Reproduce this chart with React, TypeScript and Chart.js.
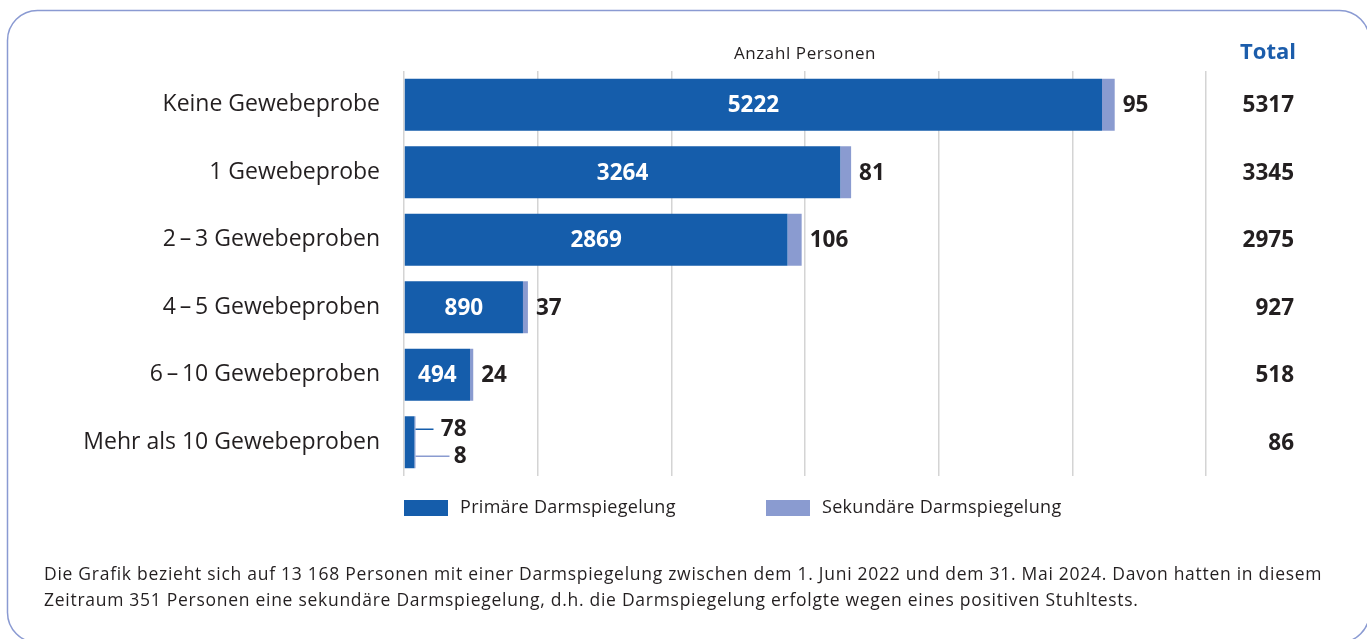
import React, { useEffect, useRef } from 'react';
import { Chart, registerables } from 'chart.js';

Chart.register(...registerables);

const categories = [
  'Keine Gewebeprobe',
  '1 Gewebeprobe',
  '2\u2009\u2013\u20093 Gewebeproben',
  '4\u2009\u2013\u20095 Gewebeproben',
  '6\u2009\u2013\u200910 Gewebeproben',
  'Mehr als 10 Gewebeproben',
];
const primary = [5222, 3264, 2869, 890, 494, 78];
const secondary = [95, 81, 106, 37, 24, 8];
const totals = [5317, 3345, 2975, 927, 518, 86];
const seriesNames = ['Primäre Darmspiegelung', 'Sekundäre Darmspiegelung'];
const axisTitle = 'Anzahl Personen';
const totalHeader = 'Total';
const xMax = 6000;
const xStep = 1000;
const footnote = [
  'Die Grafik bezieht sich auf 13 168 Personen mit einer Darmspiegelung zwischen dem 1. Juni 2022 und dem 31. Mai 2024. Davon hatten in diesem',
  'Zeitraum 351 Personen eine sekundäre Darmspiegelung, d.h. die Darmspiegelung erfolgte wegen eines positiven Stuhltests.',
];

const C_PRIMARY = '#155dab';
const C_SECONDARY = '#8a9bd0';
const C_TEXT = '#231f20';
const C_BLUE_TEXT = '#1c5dab';
const FONT = '"Open Sans", "Noto Sans", sans-serif';

const setSpacing = (ctx: any, px: number) => {
  if ('letterSpacing' in ctx) ctx.letterSpacing = `${px}px`;
};

const decorPlugin = {
  id: 'decor',
  beforeDraw(chart: any) {
    const ctx = chart.ctx;
    ctx.save();
    ctx.fillStyle = '#ffffff';
    ctx.fillRect(0, 0, chart.width, chart.height);
    ctx.strokeStyle = '#8a9ad2';
    ctx.lineWidth = 1.5;
    ctx.beginPath();
    (ctx as any).roundRect(7.5, 10.5, 1362, 632, 30);
    ctx.stroke();
    ctx.restore();
  },
  afterDatasetsDraw(chart: any) {
    const ctx = chart.ctx;
    const area = chart.chartArea;
    const m0 = chart.getDatasetMeta(0);
    const m1 = chart.getDatasetMeta(1);
    ctx.save();
    ctx.textBaseline = 'middle';

    // axis title
    ctx.font = `17px ${FONT}`;
    setSpacing(ctx, 0.6);
    ctx.fillStyle = C_TEXT;
    ctx.textAlign = 'center';
    ctx.fillText(axisTitle, (area.left + area.right) / 2, 54);
    setSpacing(ctx, 0);

    // total header
    ctx.font = `bold 22px ${FONT}`;
    ctx.fillStyle = C_BLUE_TEXT;
    ctx.fillText(totalHeader, 1268, 53);

    primary.forEach((v, i) => {
      const b0 = m0.data[i] as any;
      const b1 = m1.data[i] as any;
      const y = b0.y;
      const pe = b0.x;
      const se = b1.x;
      const w = pe - b0.base;
      ctx.font = `bold 22.5px ${FONT}`;
      if (w > 50) {
        ctx.fillStyle = '#ffffff';
        ctx.textAlign = 'center';
        ctx.fillText(String(v), (b0.base + pe) / 2, y + 1);
        ctx.fillStyle = C_TEXT;
        ctx.textAlign = 'left';
        ctx.fillText(String(secondary[i]), se + 8, y + 1);
      } else {
        const y1 = y - 13;
        const y2 = y + 14;
        ctx.lineWidth = 1.5;
        ctx.strokeStyle = C_PRIMARY;
        ctx.beginPath();
        ctx.moveTo(se, y1);
        ctx.lineTo(se + 18, y1);
        ctx.stroke();
        ctx.strokeStyle = C_SECONDARY;
        ctx.beginPath();
        ctx.moveTo(se, y2);
        ctx.lineTo(se + 34, y2);
        ctx.stroke();
        ctx.fillStyle = C_TEXT;
        ctx.textAlign = 'right';
        ctx.fillText(String(v), se + 51, y1);
        ctx.fillText(String(secondary[i]), se + 51, y2);
      }
      ctx.fillStyle = C_TEXT;
      ctx.textAlign = 'right';
      ctx.fillText(String(totals[i]), 1294, y + 1);
    });

    // legend
    const legendY = 508;
    const items = [
      { x: 404, color: C_PRIMARY, label: seriesNames[0] },
      { x: 766, color: C_SECONDARY, label: seriesNames[1] },
    ];
    ctx.font = `18px ${FONT}`;
    setSpacing(ctx, 0.3);
    ctx.textAlign = 'left';
    items.forEach((it) => {
      ctx.fillStyle = it.color;
      ctx.fillRect(it.x, legendY - 8, 44, 16);
      ctx.fillStyle = C_TEXT;
      ctx.fillText(it.label, it.x + 56, legendY);
    });

    // footnote
    ctx.font = `17.5px ${FONT}`;
    setSpacing(ctx, 0.72);
    ctx.fillStyle = C_TEXT;
    ctx.fillText(footnote[0], 44, 575);
    ctx.fillText(footnote[1], 44, 601);
    setSpacing(ctx, 0);
    ctx.restore();
  },
};

export default function App() {
  const ref = useRef<HTMLCanvasElement | null>(null);
  useEffect(() => {
    let chart: Chart | null = null;
    let cancelled = false;
    const make = () => {
      if (cancelled || !ref.current) return;
      chart = new Chart(ref.current, {
        type: 'bar',
        data: {
          labels: categories,
          datasets: [
            { label: seriesNames[0], data: primary, backgroundColor: C_PRIMARY, barPercentage: 0.77, categoryPercentage: 1 },
            { label: seriesNames[1], data: secondary, backgroundColor: C_SECONDARY, barPercentage: 0.77, categoryPercentage: 1 },
          ],
        },
        options: {
          indexAxis: 'y',
          responsive: false,
          animation: false,
          devicePixelRatio: 1,
          layout: { padding: { top: 71, bottom: 163, left: 0, right: 161 } },
          plugins: { legend: { display: false }, tooltip: { enabled: false } },
          scales: {
            x: {
              stacked: true,
              min: 0,
              max: xMax,
              ticks: { display: false, stepSize: xStep },
              grid: { color: '#d4d4d4', lineWidth: 1.5, drawTicks: false },
              border: { display: false },
              afterFit: (s: any) => { s.height = 0; },
            },
            y: {
              stacked: true,
              ticks: { font: { family: FONT, size: 23 }, color: C_TEXT, padding: 24 },
              grid: { display: false, drawTicks: false },
              border: { display: false },
              afterFit: (s: any) => { s.width = 404; },
            },
          },
        },
        plugins: [decorPlugin],
      });
    };
    const fonts = (document as any).fonts;
    if (fonts && fonts.load) {
      Promise.all([
        fonts.load(`22px "Open Sans"`),
        fonts.load(`bold 22px "Open Sans"`),
      ]).then(make, make);
    } else {
      make();
    }
    return () => {
      cancelled = true;
      if (chart) chart.destroy();
    };
  }, []);
  return (
    <div style={{ position: 'fixed', left: 0, top: 0, width: 1367, height: 639, background: '#fff' }}>
      <canvas ref={ref} width={1367} height={639} style={{ display: 'block' }} />
    </div>
  );
}
